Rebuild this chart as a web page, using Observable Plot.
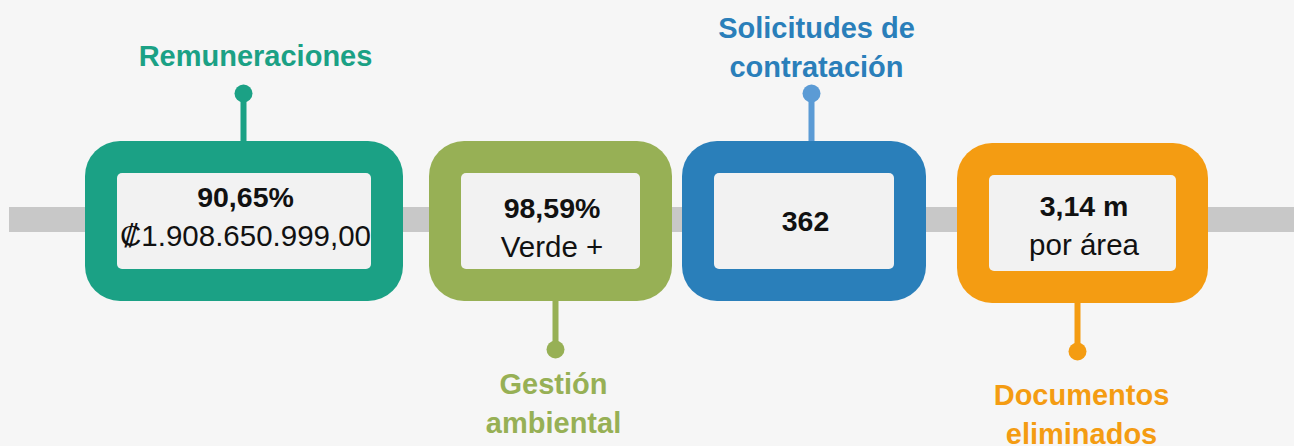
<!DOCTYPE html>
<html><head><meta charset="utf-8">
<script src="https://cdn.jsdelivr.net/npm/d3@7"></script>
<script src="https://cdn.jsdelivr.net/npm/@observablehq/plot@0.6"></script>
<style>html,body{margin:0;padding:0;background:#f6f6f6;} #chart svg{display:block}</style>
</head><body><div id="chart"></div>
<script>
// ---- data ----
const categories = ["Remuneraciones", "Gestión ambiental", "Solicitudes de contratación", "Documentos eliminados"];
const titleText = ["Remuneraciones", "Gestión\nambiental", "Solicitudes de\ncontratación", "Documentos\neliminados"];
const mainValues = ["90,65%", "98,59%", "362", "3,14 m"];
const subValues = ["₡1.908.650.999,00", "Verde +", "", "por área"];
const colors = ["#1ba185", "#97b055", "#2a7fba", "#f49c12"];
const connectorColors = ["#1ba185", "#97b055", "#5b9bd5", "#f49c12"];

// ---- layout (pixel units of the canvas) ----
const W = 1294, H = 446;
const boxX1 = [85, 429, 682, 957], boxX2 = [403, 672, 926, 1208];
const boxY1 = [141, 141, 141, 143], boxY2 = [301, 301, 301, 303];
const border = 32;
const connX = [243, 555, 811, 1077];
const connSide = ["top", "bottom", "top", "bottom"];
const dotOffset = 48;
const titleX = [255, 553, 816, 1081], titleY = [53, 401, 45, 412];
const mainY = [197, 208, 221, 206], subY = [236, 247, null, 245];

const rows = categories.map((c, i) => {
  const top = connSide[i] === "top";
  return {
    c, title: titleText[i], main: mainValues[i], sub: subValues[i],
    color: colors[i], conn: connectorColors[i],
    x1: boxX1[i], x2: boxX2[i], y1: boxY1[i], y2: boxY2[i],
    ix1: boxX1[i] + border, ix2: boxX2[i] - border, iy1: boxY1[i] + border, iy2: boxY2[i] - border,
    tx: (boxX1[i] + boxX2[i]) / 2 + 1,
    cx: connX[i],
    cEdge: top ? boxY1[i] + 2 : boxY2[i] - 2,
    cDot: top ? boxY1[i] - dotOffset : boxY2[i] + dotOffset,
    lx: titleX[i], ly: titleY[i], my: mainY[i], sy: subY[i]
  };
});

const font = "'Liberation Sans', Arial, Helvetica, sans-serif";

const chart = Plot.plot({
  width: W, height: H,
  marginTop: 0, marginRight: 0, marginBottom: 0, marginLeft: 0,
  x: {domain: [0, W], range: [0, W], axis: null},
  y: {domain: [0, H], range: [0, H], axis: null},
  color: {type: "identity"},
  style: {background: "#f6f6f6", fontFamily: font},
  marks: [
    Plot.rect([{}], {x1: 9, x2: W, y1: 207, y2: 232, fill: "#c8c8c8"}),
    Plot.ruleX(rows, {x: "cx", y1: "cDot", y2: "cEdge", stroke: "conn", strokeWidth: 6}),
    Plot.dot(rows, {x: "cx", y: "cDot", r: 9, fill: "conn"}),
    Plot.rect(rows, {x1: "x1", x2: "x2", y1: "y1", y2: "y2", fill: "color", rx: 35, ry: 35}),
    Plot.rect(rows, {x1: "ix1", x2: "ix2", y1: "iy1", y2: "iy2", fill: "#f2f2f2", rx: 5, ry: 5}),
    Plot.text(rows, {x: "tx", y: "my", text: "main", fontSize: 28.5, fontWeight: "bold", fill: "#111", textAnchor: "middle", lineAnchor: "middle", fontFamily: font}),
    Plot.text(rows.filter(d => d.sub), {x: "tx", y: "sy", text: "sub", fontSize: 29.5, fill: "#111", textAnchor: "middle", lineAnchor: "middle", fontFamily: font}),
    Plot.text(rows, {x: "lx", y: "ly", text: "title", fontSize: 29, fontWeight: "bold", fill: "color", textAnchor: "middle", lineAnchor: "middle", lineHeight: 1.345, fontFamily: font})
  ]
});
document.getElementById("chart").appendChild(chart);
</script>
</body></html>
